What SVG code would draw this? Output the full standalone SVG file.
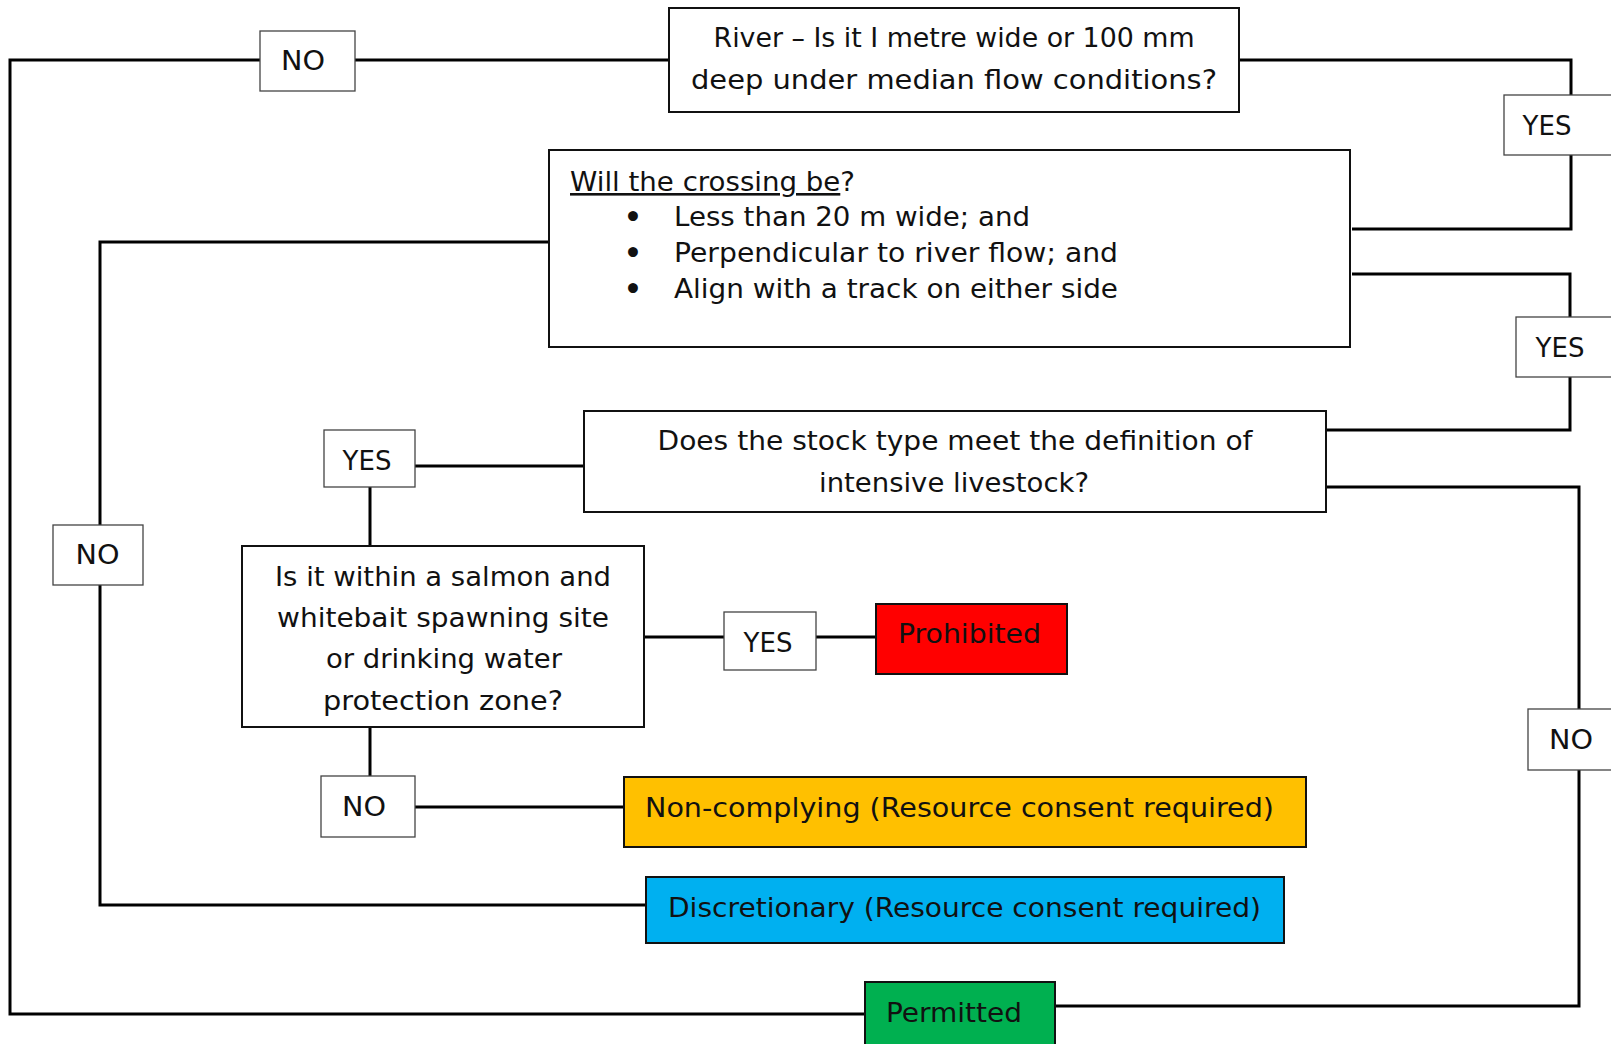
<svg xmlns="http://www.w3.org/2000/svg" width="1611" height="1044" viewBox="0 0 1611 1044">
<style>
text{font-family:"DejaVu Sans","Liberation Sans",sans-serif;font-size:26px;fill:#111;}
.c{text-anchor:middle;}
.b{font-size:28px;font-weight:bold;text-anchor:middle;}
.box{fill:#fff;stroke:#111;stroke-width:2;}
.lbl{fill:#fff;stroke:#444;stroke-width:1.3;}
.conn{fill:none;stroke:#000;stroke-width:3;stroke-linejoin:miter;}
</style>
<rect width="1611" height="1044" fill="#fff"/>
<g id="connectors">
<polyline class="conn" points="669,60 10,60 10,1014 865,1014"/>
<polyline class="conn" points="1239,60 1571,60 1571,229 1352,229"/>
<polyline class="conn" points="1352,274 1570,274 1570,430 1326,430"/>
<polyline class="conn" points="549,242 100,242 100,905 646,905"/>
<polyline class="conn" points="584,466 370,466 370,546"/>
<polyline class="conn" points="1326,487 1579,487 1579,1006 1055,1006"/>
<polyline class="conn" points="644,637 876,637"/>
<polyline class="conn" points="370,727 370,807 624,807"/>
</g>
<g id="river">
<rect class="box" x="669" y="8" width="570" height="104"/>
<text class="c" x="954" y="47" textLength="481" lengthAdjust="spacingAndGlyphs">River – Is it I metre wide or 100 mm</text>
<text class="c" x="954" y="89" textLength="526" lengthAdjust="spacingAndGlyphs">deep under median flow conditions?</text>
</g>
<g id="crossing">
<rect class="box" x="549" y="150" width="801" height="197"/>
<text x="570" y="191" textLength="285" lengthAdjust="spacingAndGlyphs"><tspan text-decoration="underline">Will the crossing be</tspan>?</text>
<text class="b" x="633" y="227">•</text>
<text class="b" x="633" y="263">•</text>
<text class="b" x="633" y="299">•</text>
<text x="674" y="226" textLength="356" lengthAdjust="spacingAndGlyphs">Less than 20 m wide; and</text>
<text x="674" y="262" textLength="444" lengthAdjust="spacingAndGlyphs">Perpendicular to river flow; and</text>
<text x="674" y="298" textLength="444" lengthAdjust="spacingAndGlyphs">Align with a track on either side</text>
</g>
<g id="stock">
<rect class="box" x="584" y="411" width="742" height="101"/>
<text class="c" x="955" y="450" textLength="595" lengthAdjust="spacingAndGlyphs">Does the stock type meet the definition of</text>
<text class="c" x="954" y="492" textLength="270" lengthAdjust="spacingAndGlyphs">intensive livestock?</text>
</g>
<g id="salmon">
<rect class="box" x="242" y="546" width="402" height="181"/>
<text class="c" x="443" y="586" textLength="336" lengthAdjust="spacingAndGlyphs">Is it within a salmon and</text>
<text class="c" x="443" y="627" textLength="332" lengthAdjust="spacingAndGlyphs">whitebait spawning site</text>
<text class="c" x="444" y="668" textLength="236" lengthAdjust="spacingAndGlyphs">or drinking water</text>
<text class="c" x="443" y="710" textLength="240" lengthAdjust="spacingAndGlyphs">protection zone?</text>
</g>
<g id="prohibited">
<rect class="box" x="876" y="604" width="191" height="70" style="fill:#ff0000"/>
<text class="c" x="969.5" y="643" textLength="143" lengthAdjust="spacingAndGlyphs">Prohibited</text>
</g>
<g id="noncomplying">
<rect class="box" x="624" y="777" width="682" height="70" style="fill:#ffc000"/>
<text x="645" y="817" textLength="629" lengthAdjust="spacingAndGlyphs">Non-complying (Resource consent required)</text>
</g>
<g id="discretionary">
<rect class="box" x="646" y="877" width="638" height="66" style="fill:#00b0f0"/>
<text x="668" y="917" textLength="593" lengthAdjust="spacingAndGlyphs">Discretionary (Resource consent required)</text>
</g>
<g id="permitted">
<rect class="box" x="865" y="982" width="190" height="70" style="fill:#00b050"/>
<text x="886" y="1022" textLength="136" lengthAdjust="spacingAndGlyphs">Permitted</text>
</g>
<g id="no-top">
<rect class="lbl" x="260" y="31" width="95" height="60"/>
<text class="c" x="303" y="70" textLength="44" lengthAdjust="spacingAndGlyphs">NO</text>
</g>
<g id="yes-top-right">
<rect class="lbl" x="1504" y="95" width="110" height="60"/>
<text class="c" x="1547" y="135">YES</text>
</g>
<g id="yes-mid-right">
<rect class="lbl" x="1516" y="317" width="98" height="60"/>
<text class="c" x="1560" y="357">YES</text>
</g>
<g id="no-left">
<rect class="lbl" x="53" y="525" width="90" height="60"/>
<text class="c" x="97.5" y="564" textLength="44" lengthAdjust="spacingAndGlyphs">NO</text>
</g>
<g id="yes-stock">
<rect class="lbl" x="324" y="430" width="91" height="57"/>
<text class="c" x="367" y="470">YES</text>
</g>
<g id="yes-salmon">
<rect class="lbl" x="724" y="612" width="92" height="58"/>
<text class="c" x="768" y="652">YES</text>
</g>
<g id="no-salmon">
<rect class="lbl" x="321" y="776" width="94" height="61"/>
<text class="c" x="364" y="816" textLength="44" lengthAdjust="spacingAndGlyphs">NO</text>
</g>
<g id="no-right">
<rect class="lbl" x="1528" y="709" width="86" height="61"/>
<text class="c" x="1571" y="749" textLength="44" lengthAdjust="spacingAndGlyphs">NO</text>
</g>
</svg>
